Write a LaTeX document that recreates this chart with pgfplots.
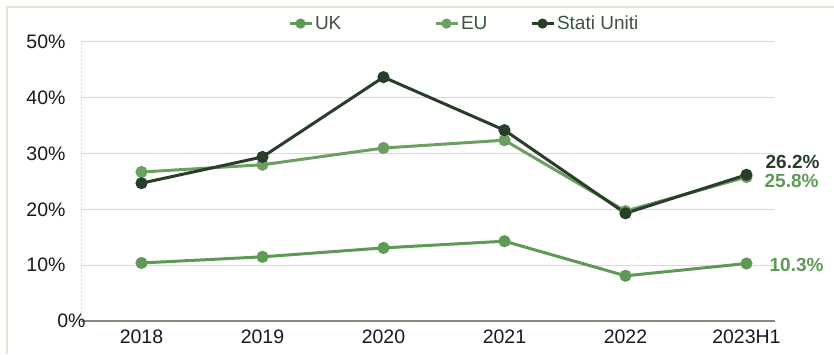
\documentclass[border=0pt]{standalone}
\usepackage{pgfplots}
\pgfplotsset{compat=1.18}
\usepackage{fontspec}
\setmainfont{Liberation Sans}
\definecolor{dk}{HTML}{2A3D2A}
\definecolor{uk}{HTML}{5E9A55}
\definecolor{eu}{HTML}{6CA062}
\definecolor{gridc}{HTML}{CBE3C3}
\definecolor{axl}{HTML}{7E8E7A}
\definecolor{framec}{HTML}{D9ECD3}
\definecolor{legt}{HTML}{3A5538}
\begin{document}
\begin{tikzpicture}[x=1pt,y=1pt]
\useasboundingbox (0,0) rectangle (834,354);
\draw[framec, line width=1.2pt] (7,0) -- (7,347) -- (834,347);
\begin{axis}[
  at={(81pt,33pt)}, anchor=south west,
  scale only axis, width=694pt, height=279pt,
  xmin=-0.5, xmax=5.236, ymin=0, ymax=50,
  xtick={0,...,5}, xticklabels={2018,2019,2020,2021,2022,2023H1},
  ytick={0,10,...,50},
  yticklabels={0\%\kern-20pt,10\%,20\%,30\%,40\%,50\%},
  axis x line*=bottom, axis y line*=left,
  x axis line style={axl, line width=1.5pt, -},
  y axis line style={gridc, dash pattern=on 2pt off 2pt, line width=1pt, -},
  ymajorgrids, grid style={gridc, line width=1pt},
  major tick length=0pt,
  tick label style={font=\fontsize{19.5}{21}\selectfont, color=black!90},
  yticklabel style={xshift=-12pt},
  xticklabel style={yshift=-5pt},
  clip=false,
  legend columns=3,
  legend style={draw=none, fill=none, inner sep=0pt,
    at={(0.298,1.066)}, anchor=west,
    font=\fontsize{19}{21}\selectfont, text=legt,
    /tikz/every even column/.append style={column sep=0pt}},
  legend image code/.code={%
    \draw[#1, mark=none, line width=3pt] (0pt,0pt) -- (22pt,0pt);
    \draw[#1, only marks, mark=*, mark size=3.5pt] plot coordinates {(11pt,0pt)};},
  every axis plot/.append style={line width=3pt, mark=*, mark size=4.5pt},
]
\addplot[uk, mark options={fill=uk}] coordinates {(0,10.4) (1,11.5) (2,13.1) (3,14.3) (4,8.1) (5,10.3)};
\addlegendentry[text width=117pt]{UK}
\addplot[eu, mark options={fill=eu}] coordinates {(0,26.7) (1,28.0) (2,31.0) (3,32.4) (4,19.7) (5,25.8)};
\addlegendentry[text width=67pt]{EU}
\addplot[dk, mark options={fill=dk}] coordinates {(0,24.7) (1,29.4) (2,43.7) (3,34.2) (4,19.3) (5,26.2)};
\addlegendentry{Stati Uniti}
\node[anchor=west, dk, font=\bfseries\fontsize{19}{21}\selectfont, inner sep=0pt] at (axis cs:5,26.2) [xshift=19pt, yshift=13pt] {26.2\%};
\node[anchor=west, uk, font=\bfseries\fontsize{19}{21}\selectfont, inner sep=0pt] at (axis cs:5,25.8) [xshift=18pt, yshift=-4pt] {25.8\%};
\node[anchor=west, uk, font=\bfseries\fontsize{19}{21}\selectfont, inner sep=0pt] at (axis cs:5,10.3) [xshift=23pt, yshift=-1pt] {10.3\%};
\end{axis}
\end{tikzpicture}
\end{document}
